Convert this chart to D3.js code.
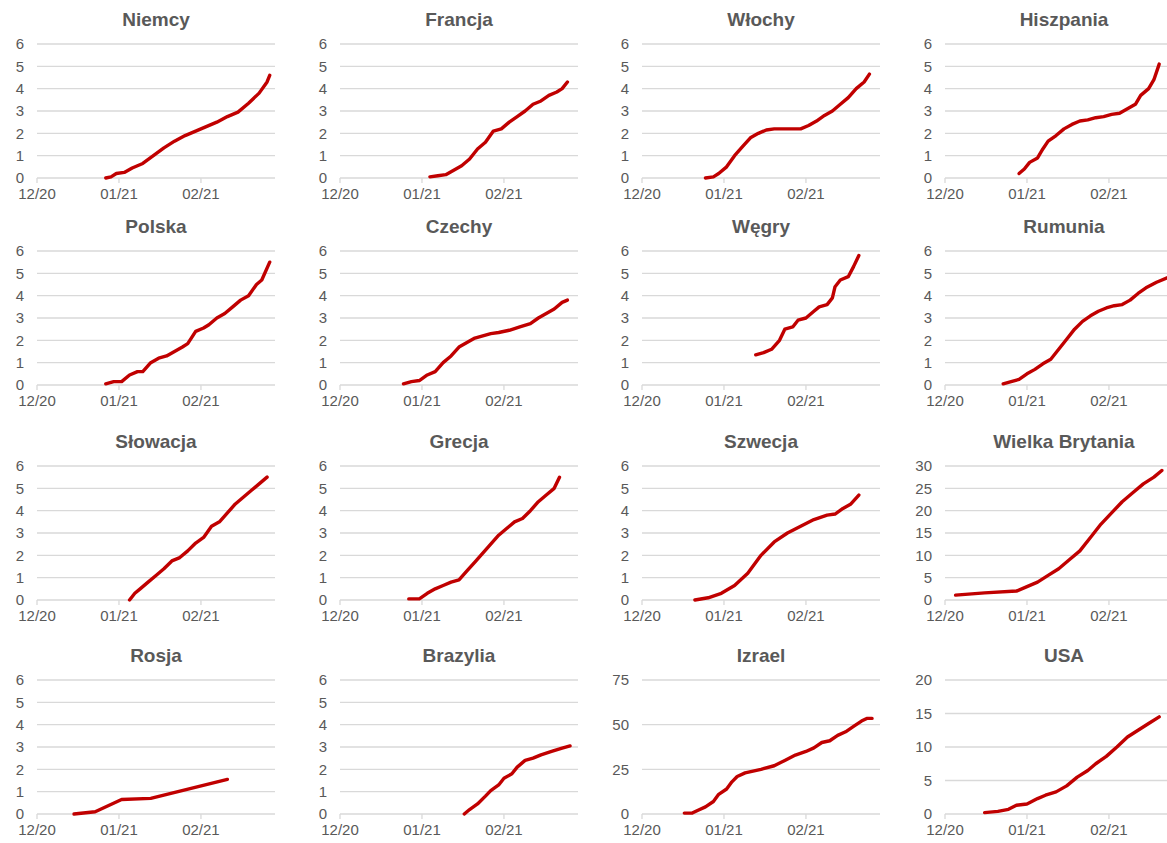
<!DOCTYPE html>
<html><head><meta charset="utf-8">
<script src="https://cdn.jsdelivr.net/npm/d3@7"></script>
<style>
body{margin:0;background:#fff;}
text{font-family:"Liberation Sans",Arial,sans-serif;fill:#595959;}
</style></head><body>
<script>
// day offsets from 1 Dec 2020, values
const titles = ["Niemcy","Francja","Włochy","Hiszpania","Polska","Czechy","Węgry","Rumunia",
  "Słowacja","Grecja","Szwecja","Wielka Brytania","Rosja","Brazylia","Izrael","USA"];
const yMax = [6,6,6,6, 6,6,6,6, 6,6,6,30, 6,6,75,20];
const yStep = [1,1,1,1, 1,1,1,1, 1,1,1,5, 1,1,25,5];
const xTickDays = [0, 31, 62];
const xTickLabels = ["12/20","01/21","02/21"];
const series = [
 [[26,0],[28,0.05],[30,0.2],[33,0.25],[36,0.45],[40,0.65],[44,1.0],[48,1.35],[52,1.65],[56,1.9],[60,2.1],[64,2.3],[68,2.5],[72,2.75],[76,2.95],[80,3.35],[84,3.8],[87,4.3],[88,4.6]],
 [[34,0.05],[37,0.1],[40,0.15],[43,0.35],[46,0.55],[49,0.85],[52,1.3],[55,1.6],[58,2.1],[61,2.2],[64,2.5],[67,2.75],[70,3.0],[73,3.3],[76,3.45],[79,3.7],[82,3.85],[84,4.0],[86,4.3]],
 [[24,0],[27,0.05],[29,0.2],[32,0.5],[35,1.0],[38,1.4],[41,1.8],[44,2.0],[47,2.15],[50,2.2],[55,2.2],[60,2.2],[63,2.35],[66,2.55],[69,2.8],[72,3.0],[75,3.3],[78,3.6],[81,4.0],[84,4.3],[86,4.65]],
 [[28,0.2],[30,0.4],[32,0.7],[35,0.9],[37,1.3],[39,1.65],[42,1.9],[45,2.2],[48,2.4],[51,2.55],[54,2.6],[57,2.7],[60,2.75],[63,2.85],[66,2.9],[69,3.1],[72,3.3],[74,3.7],[77,4.0],[79,4.4],[81,5.1]],
 [[26,0.05],[29,0.15],[32,0.15],[35,0.45],[38,0.6],[40,0.6],[43,1.0],[46,1.2],[49,1.3],[52,1.5],[55,1.7],[57,1.85],[60,2.4],[63,2.55],[65,2.7],[68,3.0],[71,3.2],[74,3.5],[77,3.8],[80,4.0],[83,4.5],[85,4.7],[88,5.5]],
 [[24,0.05],[27,0.15],[30,0.2],[33,0.45],[36,0.6],[39,1.0],[42,1.3],[45,1.7],[48,1.9],[51,2.1],[54,2.2],[57,2.3],[60,2.35],[64,2.45],[68,2.6],[72,2.75],[75,3.0],[78,3.2],[81,3.4],[84,3.7],[86,3.8]],
 [[43,1.35],[46,1.45],[49,1.6],[52,2.0],[54,2.5],[57,2.6],[59,2.9],[62,3.0],[65,3.3],[67,3.5],[70,3.6],[72,3.9],[73,4.4],[75,4.7],[78,4.85],[80,5.3],[82,5.8]],
 [[22,0.05],[25,0.15],[28,0.25],[31,0.5],[34,0.7],[37,0.95],[40,1.15],[43,1.6],[46,2.05],[49,2.5],[52,2.85],[55,3.1],[58,3.3],[61,3.45],[64,3.55],[67,3.6],[70,3.8],[73,4.1],[76,4.35],[80,4.6],[84,4.8]],
 [[35,0],[37,0.3],[39,0.5],[42,0.8],[45,1.1],[48,1.4],[51,1.75],[54,1.9],[57,2.2],[60,2.55],[63,2.8],[66,3.3],[69,3.5],[72,3.9],[75,4.3],[78,4.6],[81,4.9],[84,5.2],[87,5.5]],
 [[26,0.05],[30,0.05],[33,0.3],[36,0.5],[39,0.65],[42,0.8],[45,0.9],[48,1.3],[51,1.7],[54,2.1],[57,2.5],[60,2.9],[63,3.2],[66,3.5],[69,3.65],[72,4.0],[75,4.4],[78,4.7],[81,5.0],[83,5.5]],
 [[20,0],[25,0.1],[30,0.3],[35,0.65],[40,1.2],[45,2.0],[50,2.6],[55,3.0],[60,3.3],[65,3.6],[70,3.8],[73,3.85],[76,4.1],[79,4.3],[82,4.7]],
 [[4,1.1],[15,1.6],[27,2.0],[31,3.0],[35,4.0],[39,5.5],[43,7.0],[47,9.0],[51,11.0],[55,14.0],[59,17.0],[63,19.5],[67,22],[71,24],[75,26],[79,27.5],[82,29]],
 [[14,0],[22,0.1],[32,0.65],[43,0.7],[72,1.55]],
 [[47,0],[49,0.2],[52,0.45],[55,0.8],[57,1.05],[60,1.3],[62,1.6],[65,1.8],[67,2.1],[70,2.4],[73,2.5],[76,2.65],[80,2.8],[84,2.95],[87,3.05]],
 [[16,0.5],[19,0.5],[21,2],[24,4],[27,7],[29,11],[32,14],[34,18],[36,21],[39,23],[42,24],[45,25],[50,27],[54,30],[58,33],[62,35],[65,37],[68,40],[71,41],[74,44],[77,46],[80,49],[83,52],[85,53.5],[87,53.5]],
 [[15,0.2],[20,0.4],[24,0.7],[27,1.3],[31,1.5],[35,2.3],[38,2.8],[42,3.3],[46,4.2],[50,5.5],[54,6.5],[57,7.5],[61,8.6],[65,10],[69,11.5],[73,12.5],[77,13.5],[81,14.5]]
];

const W = 1167, H = 843;
const colX = [37, 340, 642, 945], rowY = [0, 207, 422, 636];
const pw = 238, plotTop = 44, plotBot = 178;

const svg = d3.select("body").append("svg").attr("width", W).attr("height", H);

titles.forEach((t, i) => {
  const r = Math.floor(i / 4), c = i % 4;
  const g = svg.append("g").attr("transform", `translate(${colX[c]},${rowY[r]})`);
  const x = d3.scaleLinear().domain([0, 90]).range([0, pw]);
  const y = d3.scaleLinear().domain([0, yMax[i]]).range([plotBot, plotTop]);
  const yt = d3.range(0, yMax[i] + 0.001, yStep[i]);

  g.append("text").attr("x", pw / 2).attr("y", 26).attr("text-anchor", "middle")
    .style("font-size", "19px").style("font-weight", "bold").text(t);

  g.selectAll(".grid").data(yt).join("line")
    .attr("x1", 0).attr("x2", pw).attr("y1", d => y(d)).attr("y2", d => y(d))
    .attr("stroke", "#d9d9d9").attr("stroke-width", 1.3);

  g.selectAll(".yl").data(yt).join("text")
    .attr("x", -13).attr("y", d => y(d)).attr("dy", "0.35em").attr("text-anchor", "end")
    .style("font-size", "15px").text(d => d);

  g.selectAll(".xt").data(xTickDays).join("line")
    .attr("x1", d => x(d)).attr("x2", d => x(d)).attr("y1", plotBot).attr("y2", plotBot + 5)
    .attr("stroke", "#d9d9d9").attr("stroke-width", 1.3);

  g.selectAll(".xl").data(xTickDays).join("text")
    .attr("x", d => x(d)).attr("y", plotBot + 21).attr("text-anchor", "middle")
    .style("font-size", "15px").text((d, k) => xTickLabels[k]);

  g.append("path").datum(series[i])
    .attr("d", d3.line().x(d => x(d[0])).y(d => y(d[1])))
    .attr("fill", "none").attr("stroke", "#c00000").attr("stroke-width", 3.4)
    .attr("stroke-linejoin", "round").attr("stroke-linecap", "round");
});
</script>
</body></html>
